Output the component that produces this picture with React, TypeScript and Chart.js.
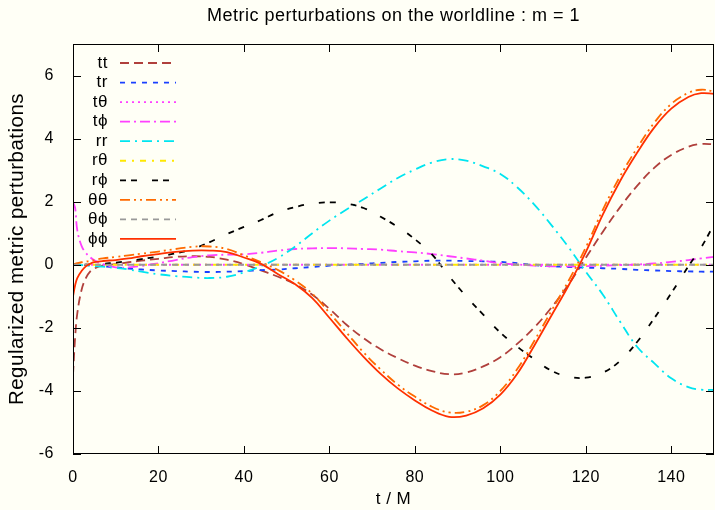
import React, { useEffect, useRef } from "react";
import { Chart, registerables } from "chart.js";

Chart.register(...registerables);

const TITLE = "Metric perturbations on the worldline : m = 1";
const X_TITLE = "t / M";
const Y_TITLE = "Regularized metric perturbations";

const TIMES = [0, 0.5, 1, 2, 3, 4, 5, 7, 10, 13, 16, 20, 24, 28, 32, 36, 40, 44, 48, 52, 56, 60, 64, 68, 72, 76, 80, 84, 88, 92, 96, 100, 104, 108, 112, 116, 120, 124, 128, 132, 136, 140, 144, 147, 150];

const TT = [-3.5, -2.3, -1.55, -0.8, -0.42, -0.22, -0.12, -0.02, 0.02, 0.08, 0.13, 0.19, 0.25, 0.27, 0.25, 0.16, 0.02, -0.18, -0.38, -0.62, -0.95, -1.4, -1.9, -2.33, -2.68, -2.96, -3.2, -3.37, -3.47, -3.42, -3.22, -2.93, -2.5, -1.98, -1.35, -0.62, 0.22, 1.05, 1.82, 2.5, 3.07, 3.48, 3.74, 3.83, 3.82];
const TR = [0, 0, 0, 0, -0.01, -0.02, -0.03, -0.05, -0.08, -0.12, -0.15, -0.18, -0.2, -0.22, -0.23, -0.22, -0.2, -0.17, -0.15, -0.11, -0.07, -0.03, 0.0, 0.03, 0.06, 0.09, 0.11, 0.13, 0.13, 0.12, 0.11, 0.09, 0.05, -0.01, -0.05, -0.07, -0.09, -0.11, -0.13, -0.16, -0.18, -0.2, -0.21, -0.22, -0.22];
const T_THETA = TIMES.map(() => 0);
const T_PHI = [2.0, 1.8, 1.1, 0.6, 0.38, 0.24, 0.14, 0.02, -0.08, -0.08, -0.04, 0.05, 0.15, 0.24, 0.3, 0.32, 0.33, 0.38, 0.45, 0.5, 0.52, 0.53, 0.52, 0.5, 0.48, 0.43, 0.39, 0.34, 0.27, 0.2, 0.13, 0.05, 0.01, -0.03, -0.05, -0.05, -0.04, -0.03, -0.01, 0.01, 0.04, 0.09, 0.15, 0.2, 0.25];
const RR = [0, 0, 0, -0.01, -0.02, -0.03, -0.04, -0.06, -0.1, -0.15, -0.22, -0.3, -0.36, -0.4, -0.42, -0.38, -0.24, -0.04, 0.22, 0.58, 1.0, 1.4, 1.75, 2.08, 2.42, 2.75, 3.02, 3.24, 3.35, 3.3, 3.12, 2.88, 2.45, 1.9, 1.25, 0.55, -0.22, -0.95, -1.8, -2.6, -3.12, -3.6, -3.88, -3.96, -3.97];
const R_THETA = TIMES.map(() => 0);
const R_PHI = [0, 0, 0, 0, 0, 0.01, 0.01, 0.03, 0.07, 0.12, 0.18, 0.26, 0.36, 0.5, 0.72, 0.97, 1.2, 1.42, 1.67, 1.83, 1.94, 1.98, 1.94, 1.8, 1.52, 1.2, 0.81, 0.33, -0.36, -1.0, -1.58, -2.15, -2.6, -3.0, -3.36, -3.55, -3.58, -3.42, -3.05, -2.45, -1.7, -0.9, -0.05, 0.55, 1.28];
const THETA_THETA = [0, 0.03, 0.05, 0.08, 0.1, 0.12, 0.15, 0.2, 0.25, 0.3, 0.35, 0.42, 0.5, 0.57, 0.58, 0.5, 0.3, 0.08, -0.17, -0.5, -0.92, -1.52, -2.15, -2.78, -3.32, -3.8, -4.18, -4.5, -4.68, -4.66, -4.45, -4.0, -3.3, -2.4, -1.45, -0.5, 0.55, 1.75, 2.8, 3.7, 4.5, 5.1, 5.45, 5.55, 5.5];
const THETA_PHI = TIMES.map(() => 0);
const PHI_PHI = [-1.0, -0.65, -0.42, -0.2, -0.05, 0.03, 0.08, 0.12, 0.15, 0.2, 0.27, 0.34, 0.41, 0.45, 0.45, 0.4, 0.23, 0.03, -0.3, -0.62, -1.06, -1.68, -2.32, -2.92, -3.46, -3.92, -4.3, -4.62, -4.82, -4.78, -4.55, -4.12, -3.45, -2.55, -1.6, -0.65, 0.4, 1.6, 2.65, 3.55, 4.35, 4.95, 5.32, 5.44, 5.42];

const LABELS = ["tt", "tr", "t\u03B8", "t\u03D5", "rr", "r\u03B8", "r\u03D5", "\u03B8\u03B8", "\u03B8\u03D5", "\u03D5\u03D5"];
const SERIES = [TT, TR, T_THETA, T_PHI, RR, R_THETA, R_PHI, THETA_THETA, THETA_PHI, PHI_PHI];
const COLORS = ["#b0403c", "#1a40ff", "#ff40ff", "#ff40ff", "#00e5f0", "#ffe800", "#000000", "#ff6a00", "#999999", "#ff3000"];
const DASHES = [[9, 5], [5, 6], [2, 4], [10, 4, 2, 4], [10, 5, 2, 5], [6, 6, 2, 6], [6, 5, 6, 15], [10, 4, 2, 4, 2, 4], [6, 5], []];

const FONT = "'Liberation Sans', Arial, Helvetica, sans-serif";

const bgPlugin = {
  id: "bg",
  beforeDraw(chart: any) {
    const ctx = chart.ctx;
    ctx.save();
    ctx.fillStyle = "#fffff6";
    ctx.fillRect(0, 0, chart.width, chart.height);
    ctx.restore();
    try { (ctx as any).letterSpacing = "0.5px"; } catch (e) {}
  },
};

const titlePlugin = {
  id: "centeredTitle",
  afterDraw(chart: any) {
    const { ctx, chartArea } = chart;
    ctx.save();
    ctx.font = "18px " + FONT;
    ctx.fillStyle = "#000";
    ctx.textAlign = "center";
    ctx.textBaseline = "middle";
    ctx.fillText(TITLE, (chartArea.left + chartArea.right) / 2, 16);
    ctx.restore();
  },
};

const framePlugin = {
  id: "frame",
  afterDraw(chart: any) {
    const { ctx, chartArea } = chart;
    const { left, right, top, bottom } = chartArea;
    const xs = chart.scales.x;
    const ys = chart.scales.y;
    ctx.save();
    ctx.strokeStyle = "#000";
    ctx.lineWidth = 1;
    ctx.setLineDash([]);
    ctx.strokeRect(Math.round(left) + 0.5, Math.round(top) + 0.5, Math.round(right - left) - 1, Math.round(bottom - top) - 1);
    const tl = 8;
    ctx.beginPath();
    xs.ticks.forEach((t: any) => {
      const px = Math.round(xs.getPixelForValue(t.value)) + 0.5;
      ctx.moveTo(px, bottom);
      ctx.lineTo(px, bottom - tl);
      ctx.moveTo(px, top);
      ctx.lineTo(px, top + tl);
    });
    ys.ticks.forEach((t: any) => {
      const py = Math.round(ys.getPixelForValue(t.value)) + 0.5;
      ctx.moveTo(left, py);
      ctx.lineTo(left + tl, py);
      ctx.moveTo(right, py);
      ctx.lineTo(right - tl, py);
    });
    ctx.stroke();
    ctx.restore();
  },
};

const legendPlugin = {
  id: "gnuLegend",
  afterDatasetsDraw(chart: any) {
    const { ctx, chartArea } = chart;
    const x0 = chartArea.left;
    const y0 = chartArea.top;
    chart.data.datasets.forEach((ds: any, i: number) => {
      const y = y0 + 19 + i * 19.55;
      ctx.save();
      ctx.font = "17px " + FONT;
      ctx.fillStyle = "#000";
      ctx.textAlign = "right";
      ctx.textBaseline = "middle";
      ctx.fillText(ds.label, x0 + 35, y);
      ctx.strokeStyle = ds.borderColor;
      ctx.lineWidth = ds.borderWidth;
      ctx.setLineDash(ds.borderDash || []);
      ctx.beginPath();
      ctx.moveTo(x0 + 47, y);
      ctx.lineTo(x0 + 103, y);
      ctx.stroke();
      ctx.restore();
    });
  },
};

export default function App() {
  const ref = useRef<HTMLCanvasElement | null>(null);
  useEffect(() => {
    if (!ref.current) return;
    Chart.defaults.font.family = FONT;
    const datasets = SERIES.map((vals, i) => ({
      label: LABELS[i],
      data: TIMES.map((t, j) => ({ x: t, y: vals[j] })),
      borderColor: COLORS[i],
      backgroundColor: COLORS[i],
      borderDash: DASHES[i],
      borderWidth: 1.8,
      pointRadius: 0,
      fill: false,
      tension: 0.4,
      order: SERIES.length - i,
    }));
    const chart = new Chart(ref.current, {
      type: "line",
      data: { datasets },
      options: {
        animation: false,
        responsive: false,
        layout: { padding: { left: 0, right: 1, top: 44, bottom: 0 } },
        plugins: {
          legend: { display: false },
          tooltip: { enabled: false },
          title: { display: false },
        },
        scales: {
          x: {
            type: "linear",
            min: 0,
            max: 150,
            afterFit: (s: any) => { s.height = 56; },
            grid: { display: false },
            border: { display: false },
            ticks: { stepSize: 20, includeBounds: false, color: "#000", font: { size: 16 }, padding: 6, maxRotation: 0 },
            title: { display: true, text: X_TITLE, color: "#000", font: { size: 17 }, padding: { top: 0, bottom: 0 } },
          },
          y: {
            type: "linear",
            min: -6,
            max: 7,
            afterFit: (s: any) => { s.width = 73; },
            grid: { display: false },
            border: { display: false },
            ticks: { stepSize: 2, includeBounds: false, color: "#000", font: { size: 16 }, padding: 11 },
            title: { display: true, text: Y_TITLE, color: "#000", font: { size: 20.5 }, padding: { top: 5, bottom: 0 } },
          },
        },
      },
      plugins: [bgPlugin, legendPlugin, framePlugin, titlePlugin],
    });
    return () => chart.destroy();
  }, []);
  return (
    <div style={{ position: "fixed", left: 0, top: 0, width: 715, height: 510 }}>
      <canvas ref={ref} width={715} height={510} style={{ display: "block", width: 715, height: 510 }} />
    </div>
  );
}
